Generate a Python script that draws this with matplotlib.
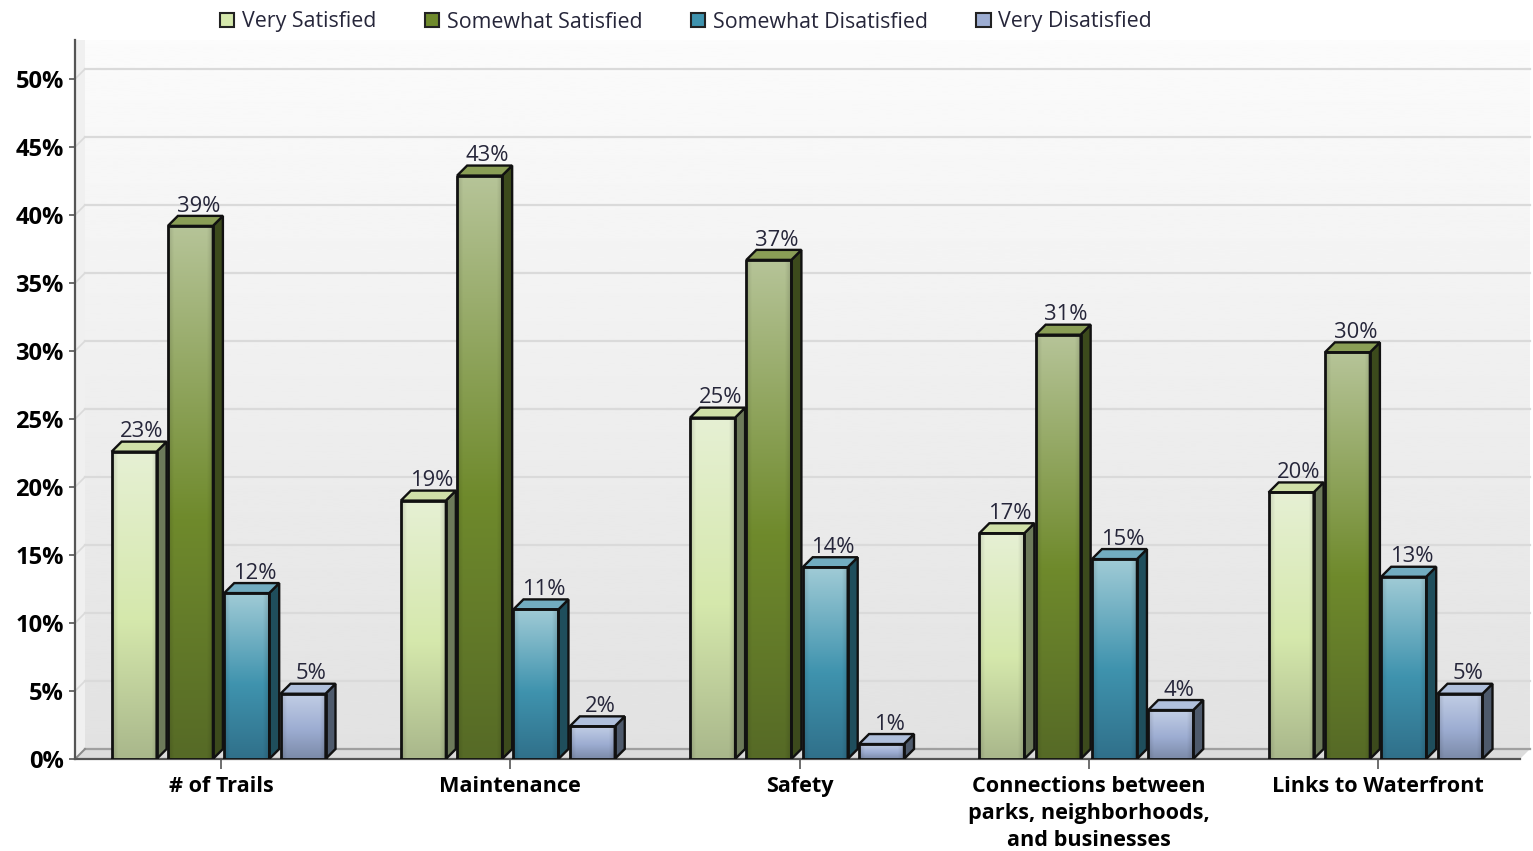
import matplotlib
matplotlib.use("Agg")
import matplotlib.pyplot as plt
import numpy as np
from matplotlib.colors import to_rgb
from matplotlib.patches import Patch

plt.rcParams['font.family'] = ['Open Sans', 'DejaVu Sans']

categories = ["# of Trails", "Maintenance", "Safety",
              "Connections between\nparks, neighborhoods,\nand businesses", "Links to Waterfront"]
series = ["Very Satisfied", "Somewhat Satisfied", "Somewhat Disatisfied", "Very Disatisfied"]
very_satisfied = [22.6, 19.0, 25.1, 16.6, 19.6]
somewhat_satisfied = [39.2, 42.9, 36.7, 31.2, 29.9]
somewhat_disatisfied = [12.2, 11.0, 14.1, 14.7, 13.4]
very_disatisfied = [4.8, 2.4, 1.1, 3.6, 4.8]
yticks = [0, 5, 10, 15, 20, 25, 30, 35, 40, 45, 50]

values = [very_satisfied, somewhat_satisfied, somewhat_disatisfied, very_disatisfied]
# (top, middle, bottom, side, cap, legend)
colors = [("#e6f0d4", "#d5e8ac", "#a9b78b", "#6d7a5a", "#d0e0a8", "#d5e8ac"),
          ("#b6c498", "#6f8a2c", "#566a26", "#3c4a1c", "#8a9e56", "#6f8a2c"),
          ("#a0cbd6", "#3f93ae", "#30708a", "#1f4e5c", "#72acc0", "#3f93ae"),
          ("#c2cee5", "#9dadd2", "#7b8aa8", "#4e5a6c", "#b0c0dc", "#9dadd2")]

W, H = 1533, 851
fig = plt.figure(figsize=(W / 100, H / 100), dpi=100)
left, right, top, bottom = 75, 1520, 40, 759
ax = fig.add_axes([left / W, 1 - bottom / H, (right - left) / W, (bottom - top) / H])

px_x = 289.25  # pixels per group
px_y = 13.6  # pixels per percent
xlim = ((left - 221) / px_x, (right - 221) / px_x)
ylim = (0, (bottom - top) / px_y)
dx = 10 / px_x  # 3d depth
dy = 10 / px_y
bar_w = 45 / px_x
step = 56.3 / px_x


def shaded(cols, w=40, h=200):
    c_top, c_mid, c_bot = [np.array(to_rgb(c)) for c in cols]
    t = np.linspace(0, 1, h)[:, None]
    img = np.where(t < 0.55, c_top + (c_mid - c_top) * t / 0.55,
                   c_mid + (c_bot - c_mid) * (t - 0.55) / 0.45)
    img = np.repeat(img[:, None, :], w, axis=1)
    edge = np.minimum(np.arange(w), np.arange(w)[::-1]) / (w * 0.12)
    edge = 0.86 + 0.14 * np.clip(edge, 0, 1)
    return img * edge[None, :, None]


# back wall, floor
wall = np.linspace(0.985, 0.885, 256)[:, None]
ax.imshow(wall, cmap="gray", vmin=0, vmax=1, aspect="auto", zorder=0, clip_on=False,
          extent=[xlim[0] + dx, (1530 - 221) / px_x, dy, ylim[1]])
ax.fill([xlim[0], xlim[0] + dx, xlim[0] + dx, xlim[0]],
        [0, dy, ylim[1], ylim[1]], color="#f0f0f0", lw=0, zorder=0)
ax.fill([xlim[0], xlim[0] + dx, (1530 - 221) / px_x, xlim[1]], [0, dy, dy, 0],
        color="#dcdcdc", lw=0, zorder=0.5, clip_on=False)
for y in yticks:
    ax.plot([xlim[0] + dx, (1530 - 221) / px_x], [y + dy, y + dy], color="#dadada", lw=1.6,
            zorder=1, clip_on=False)
    ax.plot([xlim[0], xlim[0] + dx], [y, y + dy], color="#dadada", lw=1.2, zorder=1)
ax.plot([xlim[0] + dx, (1530 - 221) / px_x], [dy, dy], color="#a0a0a0", lw=1.6, zorder=1.2, clip_on=False)
ax.plot([xlim[0], xlim[0] + dx], [0, dy], color="#8a8a8a", lw=1.4, zorder=1.2)

# bars
for i, vals in enumerate(values):
    cols = colors[i]
    img = shaded(cols[:3])
    for g, v in enumerate(vals):
        x0 = g + (i - 2) * step + 3.2 / px_x
        x1 = x0 + bar_w
        z = 3 + g + i * 0.1
        ax.imshow(img, aspect="auto", extent=[x0, x1, 0, v], zorder=z)
        ax.plot([x0, x0, x1, x1, x0], [0, v, v, 0, 0], color="#111111", lw=2.0, zorder=z + 0.03)
        ax.fill([x1, x1 + dx, x1 + dx, x1], [0, dy, v + dy, v], facecolor=cols[3],
                edgecolor="#111111", lw=1.7, zorder=z + 0.01)
        ax.fill([x0, x0 + dx, x1 + dx, x1], [v, v + dy, v + dy, v], facecolor=cols[4],
                edgecolor="#111111", lw=1.7, zorder=z + 0.02)
        ax.text((x0 + x1) / 2 + dx / 2 + 3 / px_x, v + dy - 0.05, f"{v:.0f}%", ha="center", va="bottom",
                fontsize=15.8, color="#26263a", zorder=20)

ax.set_xlim(*xlim)
ax.set_ylim(*ylim)
ax.set_yticks(yticks)
ax.set_yticklabels([f"{y}%" for y in yticks], fontsize=17, fontweight="bold", color="black")
ax.set_xticks(range(len(categories)))
ax.set_xticklabels(categories, fontsize=15.6, fontweight="bold", color="black", linespacing=1.4)
ax.tick_params(axis="y", length=4, width=1.2, color="#555555", pad=4)
ax.tick_params(axis="x", length=7, width=1.2, color="#555555", pad=5)
for s in ["top", "right"]:
    ax.spines[s].set_visible(False)
for s in ["left", "bottom"]:
    ax.spines[s].set_color("#555555")
    ax.spines[s].set_linewidth(1.6)
    ax.spines[s].set_zorder(2.5)

handles = [Patch(facecolor=c[5], edgecolor="#222222", lw=1.5) for c in colors]
fig.legend(handles, series, ncol=4, frameon=False, loc="center", bbox_to_anchor=(686 / W, 1 - 22 / H),
           fontsize=15.4, handlelength=0.68, handleheight=0.68, handletextpad=0.36, columnspacing=2.25,
           labelcolor="#26263a")

fig.savefig("out.png", dpi=100)
